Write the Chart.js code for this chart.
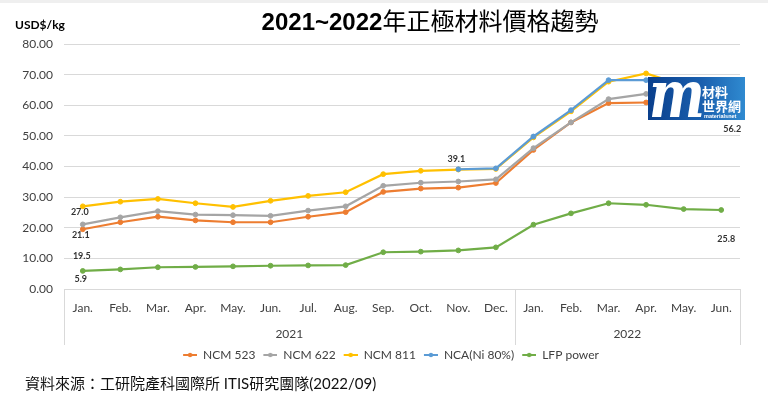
<!DOCTYPE html>
<html><head><meta charset="utf-8">
<script src="https://cdn.jsdelivr.net/npm/chart.js@4"></script>
<style>
html,body{margin:0;padding:0;background:#fff;}
#wrap{position:relative;width:768px;height:399px;overflow:hidden;background:#fff;}
#topbar{position:absolute;left:0;top:0;width:768px;height:3px;background:#efefef;}
#title{position:absolute;left:0;width:860px;top:6px;text-align:center;font-size:24px;line-height:32px;color:#000;font-family:"Liberation Sans","Noto Sans CJK TC",sans-serif;white-space:nowrap;}
#title b{font-weight:bold;}
#unit{position:absolute;left:15px;top:17px;font:bold 12px Lato,"Liberation Sans",sans-serif;color:#000;}
#source{position:absolute;left:25px;top:373px;font-size:15px;line-height:20px;color:#111;font-family:Lato,"Noto Sans CJK TC",sans-serif;white-space:nowrap;}
canvas{position:absolute;left:0;top:0;}
</style></head>
<body>
<div id="wrap">
  <div id="topbar"></div>
  <canvas id="c" width="768" height="399"></canvas>
  <div id="title"><b>2021~2022</b>年正極材料價格趨勢</div>
  <div id="unit">USD$/kg</div>
  <div id="source">資料來源：工研院產科國際所 ITIS研究團隊(2022/09)</div>
</div>
<script>
// ---- data ----
const months = ['Jan.','Feb.','Mar.','Apr.','May.','Jun.','Jul.','Aug.','Sep.','Oct.','Nov.','Dec.','Jan.','Feb.','Mar.','Apr.','May.','Jun.'];
const years = ['2021','2022'];
const monthsPerYear = [12, 6];
const yTicks = [0,10,20,30,40,50,60,70,80];
const seriesNames = ['NCM 523','NCM 622','NCM 811','NCA(Ni 80%)','LFP power'];
const ncm523 = [19.5,21.8,23.6,22.4,21.8,21.8,23.6,25.1,31.7,32.8,33.1,34.6,45.4,54.4,60.7,60.9,61.0,56.2];
const ncm622 = [21.1,23.4,25.4,24.3,24.1,23.9,25.6,27.0,33.7,34.7,35.1,35.8,46.0,54.4,62.0,63.7,64.3,59.0];
const ncm811 = [27.0,28.5,29.4,28.0,26.8,28.8,30.4,31.6,37.5,38.6,39.0,39.2,49.5,58.0,67.7,70.4,66.5,60.5];
const nca    = [null,null,null,null,null,null,null,null,null,null,39.1,39.4,49.8,58.4,68.2,68.2,68.0,57.0];
const lfp    = [5.9,6.4,7.1,7.2,7.4,7.6,7.7,7.8,12.0,12.2,12.6,13.6,21.0,24.7,28.0,27.5,26.1,25.8];

// ---- styles ----
const COLORS = ['#ED7D31','#A5A5A5','#FFC000','#5B9BD5','#70AD47'];
const GRID = '#d9d9d9';
const TEXT = '#404040';
const FONT = 'Lato, "Liberation Sans", sans-serif';

const seriesData = [ncm523, ncm622, ncm811, nca, lfp];
const datasets = seriesData.map((d, k) => ({
  label: seriesNames[k],
  data: d,
  borderColor: COLORS[k],
  backgroundColor: COLORS[k],
  pointBackgroundColor: COLORS[k],
  pointBorderColor: COLORS[k],
  borderWidth: 2.2,
  pointRadius: 2.4,
  pointBorderWidth: 1,
  tension: 0,
  order: 5 - k
}));

function marker(color){
  const c = document.createElement('canvas'); c.width = 18; c.height = 8;
  const g = c.getContext('2d');
  g.strokeStyle = color; g.lineWidth = 2;
  g.beginPath(); g.moveTo(4, 4); g.lineTo(18, 4); g.stroke();
  g.fillStyle = color; g.beginPath(); g.arc(11, 4, 2.2, 0, Math.PI*2); g.fill();
  return c;
}

// year axis: centers & boundaries derived from monthsPerYear
const yearBounds = [-0.5];
monthsPerYear.forEach(n => yearBounds.push(yearBounds[yearBounds.length-1] + n));
const yearCenters = years.map((y, i) => (yearBounds[i] + yearBounds[i+1]) / 2);

// value labels: which point, and offset in px
const valueLabels = [
  {ds:2, i:0, dx:-3, dy:6},
  {ds:1, i:0, dx:-2, dy:11},
  {ds:0, i:0, dx:-1, dy:27},
  {ds:4, i:0, dx:-2, dy:8.5},
  {ds:3, i:10, dx:-2, dy:-10},
  {ds:0, i:17, dx:11, dy:12},
  {ds:4, i:17, dx:5, dy:29}
];

const valueLabelPlugin = {
  id: 'valueLabels',
  afterDatasetsDraw(chart){
    const ctx = chart.ctx; ctx.save();
    ctx.font = 'bold 9px ' + FONT;
    ctx.fillStyle = '#333';
    ctx.textAlign = 'center'; ctx.textBaseline = 'middle';
    valueLabels.forEach(l => {
      const pt = chart.getDatasetMeta(l.ds).data[l.i];
      const v = chart.data.datasets[l.ds].data[l.i];
      ctx.fillText(v.toFixed(1), pt.x + l.dx, pt.y + l.dy);
    });
    ctx.restore();
  }
};

const separatorPlugin = {
  id: 'separators',
  afterDraw(chart){
    const xs = chart.scales.x, x2 = chart.scales.x2;
    const ctx = chart.ctx; ctx.save();
    ctx.strokeStyle = GRID; ctx.lineWidth = 1;
    yearBounds.forEach(b => {
      const px = Math.round(xs.getPixelForValue(b)) + 0.5;
      ctx.beginPath(); ctx.moveTo(px, chart.chartArea.bottom); ctx.lineTo(px, x2.bottom); ctx.stroke();
    });
    ctx.restore();
  }
};

const logoPlugin = {
  id: 'logo',
  afterDraw(chart){
    const ctx = chart.ctx; ctx.save();
    const x = 648, y = 77, w = 97, h = 43;
    const gr = ctx.createLinearGradient(x, 0, x + w, 0);
    gr.addColorStop(0, '#0a3f8c'); gr.addColorStop(0.55, '#1a5fae'); gr.addColorStop(1, '#2f8ad0');
    ctx.fillStyle = gr; ctx.fillRect(x, y, w, h);
    ctx.fillStyle = '#fff';
    ctx.save();
    ctx.translate(649, 117); ctx.scale(1.2, 1.5);
    ctx.font = 'italic bold 44px "DejaVu Serif", serif';
    ctx.textBaseline = 'alphabetic';
    ctx.fillText('m', 0, 0);
    ctx.restore();
    ctx.font = 'bold 13px "Noto Sans CJK TC", sans-serif';
    ctx.textBaseline = 'alphabetic'; ctx.textAlign = 'left';
    ctx.fillText('材料', 702, 97);
    ctx.fillText('世界網', 702, 111);
    ctx.font = 'bold 5.5px "Liberation Sans", sans-serif';
    ctx.fillText('materialsnet', 704, 118);
    ctx.restore();
  }
};

new Chart(document.getElementById('c'), {
  type: 'line',
  data: { labels: months, datasets },
  plugins: [valueLabelPlugin, separatorPlugin, logoPlugin],
  options: {
    responsive: false,
    animation: false,
    layout: { padding: { left: 10, right: 0, top: 44, bottom: 28 } },
    plugins: {
      title: { display: false },
      tooltip: { enabled: false },
      legend: {
        position: 'bottom',
        labels: {
          usePointStyle: true,
          pointStyleWidth: 18,
          padding: 4,
          color: TEXT,
          font: { family: FONT, size: 12 },
          generateLabels(chart){
            return chart.data.datasets.map((ds, i) => ({
              text: ds.label,
              fillStyle: ds.borderColor,
              strokeStyle: ds.borderColor,
              fontColor: TEXT,
              lineWidth: 0,
              pointStyle: marker(ds.borderColor),
              hidden: false,
              datasetIndex: i
            }));
          }
        }
      }
    },
    scales: {
      y: {
        min: 0, max: 80,
        afterBuildTicks(s){ s.ticks = yTicks.map(v => ({ value: v })); },
        afterFit(s){ s.width = 54; },
        grid: { color: GRID, lineWidth: 1, drawTicks: false },
        border: { display: false },
        ticks: {
          padding: 11, color: TEXT,
          font: { family: FONT, size: 12 },
          callback: v => Number(v).toFixed(2)
        }
      },
      yR: {
        position: 'right',
        afterFit(s){ s.width = 28; },
        grid: { display: false },
        border: { display: false },
        ticks: { display: false }
      },
      x: {
        weight: 0,
        offset: true,
        afterFit(s){ s.height = 30; },
        grid: { display: false },
        border: { display: false },
        ticks: {
          padding: 4, color: TEXT, autoSkip: false, maxRotation: 0,
          font: { family: FONT, size: 12 }
        }
      },
      x2: {
        type: 'linear',
        position: 'bottom',
        weight: 1,
        min: yearBounds[0], max: yearBounds[yearBounds.length-1],
        afterBuildTicks(s){ s.ticks = yearCenters.map(v => ({ value: v })); },
        afterFit(s){ s.height = 26; },
        grid: { display: false },
        border: { display: false },
        ticks: {
          padding: 0, color: TEXT, autoSkip: false, maxRotation: 0,
          font: { family: FONT, size: 12 },
          callback: v => years[yearCenters.indexOf(v)]
        }
      }
    }
  }
});
</script>
</body></html>
